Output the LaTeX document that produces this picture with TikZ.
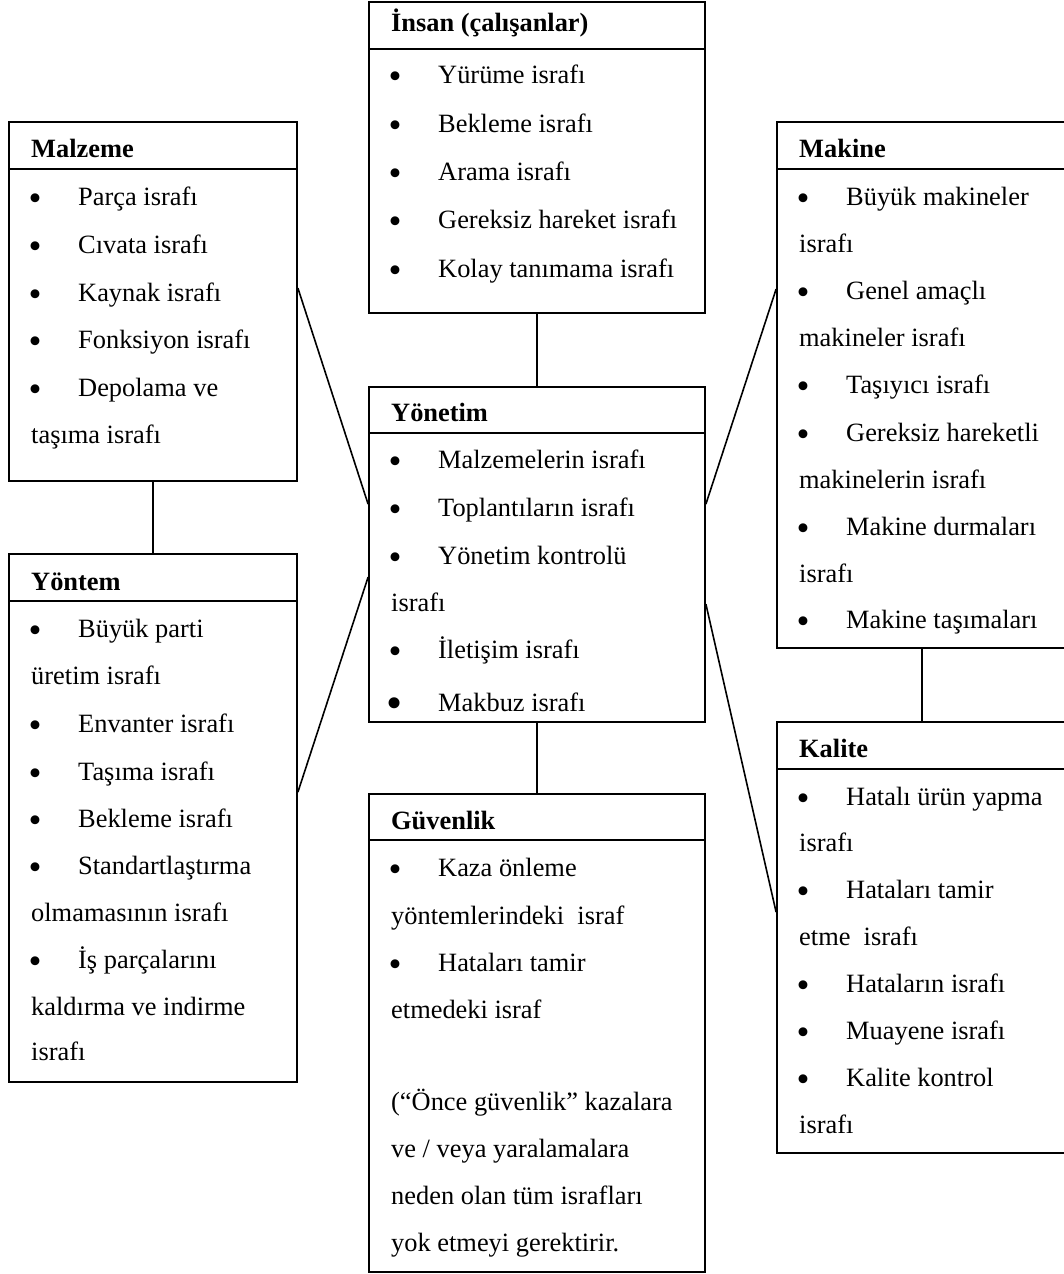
\documentclass[tikz,border=0pt]{standalone}
\usepackage{fontspec}
\setmainfont{Liberation Serif}
\newcommand\fs{\fontsize{26.4pt}{30pt}\selectfont}
\newcommand\bfs{\fontsize{37pt}{37pt}\selectfont}
\newcommand\Itm[4]{\node[bul] (#1b) at (#2+26,#3+5) {•};\node[txt] (#1t) at (#2+69,#3) {#4};}
\newcommand\Cnt[4]{\node[txt] (#1) at (#2+22,#3) {#4};}
\newcommand\Ttl[4]{\node[ttl] (#1) at (#2+22,#3) {#4};}
\tikzset{
  box/.style={draw, line width=1.8pt, rectangle, inner sep=0pt},
  hline/.style={line width=1.8pt},
  link/.style={line width=1.6pt},
  txt/.style={anchor=base west, inner sep=0pt, font=\fs},
  bul/.style={anchor=base, inner sep=0pt, font=\bfs},
  ttl/.style={anchor=base west, inner sep=0pt, font=\fs\bfseries},
}
\begin{document}
\begin{tikzpicture}[x=1pt,y=-1pt]
\useasboundingbox (0,0) rectangle (1064,1274);
\clip (0,0) rectangle (1064,1274);
% boxes
\node[box, minimum width=288pt, minimum height=359pt] (malz) at (153,301.5) {};
\node[box, minimum width=336pt, minimum height=311pt] (insan) at (537,157.5) {};
\node[box, minimum width=336pt, minimum height=335pt] (yonet) at (537,554.5) {};
\node[box, minimum width=290pt, minimum height=526pt] (makine) at (922,385) {};
\node[box, minimum width=288pt, minimum height=528pt] (yontem) at (153,818) {};
\node[box, minimum width=336pt, minimum height=478pt] (guven) at (537,1033) {};
\node[box, minimum width=290pt, minimum height=431pt] (kalite) at (922,937.5) {};
% header rules
\foreach \b in {malz,insan,yontem,makine,kalite}
  \draw[hline] ([yshift=-48pt]\b.north west) -- ([yshift=-48pt]\b.north east);
\draw[hline] ([yshift=-47pt]yonet.north west) -- ([yshift=-47pt]yonet.north east);
\draw[hline] ([yshift=-47pt]guven.north west) -- ([yshift=-47pt]guven.north east);
% Malzeme
\Ttl{malzT}{9}{157}{Malzeme}
\Itm{malzA}{9}{205}{Parça israfı}
\Itm{malzB}{9}{253}{Cıvata israfı}
\Itm{malzC}{9}{301}{Kaynak israfı}
\Itm{malzD}{9}{348}{Fonksiyon israfı}
\Itm{malzE}{9}{396}{Depolama ve}
\Cnt{malzE2}{9}{443}{taşıma israfı}
% Insan
\Ttl{insanT}{369}{31}{İnsan (çalışanlar)}
\Itm{insanA}{369}{83}{Yürüme israfı}
\Itm{insanB}{369}{132}{Bekleme israfı}
\Itm{insanC}{369}{180}{Arama israfı}
\Itm{insanD}{369}{228}{Gereksiz hareket israfı}
\Itm{insanE}{369}{277}{Kolay tanımama israfı}
% Yonetim
\Ttl{yonetT}{369}{421}{Yönetim}
\Itm{yonetA}{369}{468}{Malzemelerin israfı}
\Itm{yonetB}{369}{516}{Toplantıların israfı}
\Itm{yonetC}{369}{564}{Yönetim kontrolü}
\Cnt{yonetC2}{369}{611}{israfı}
\Itm{yonetD}{369}{658}{İletişim israfı}
\node[bul, font=\fontsize{46pt}{46pt}\selectfont] (yonetEb) at (369+26,711+7) {•};
\node[txt] (yonetEt) at (369+69,711) {Makbuz israfı};
% Makine
\Ttl{makT}{777}{157}{Makine}
\Itm{makA}{777}{205}{Büyük makineler}
\Cnt{makA2}{777}{252}{israfı}
\Itm{makB}{777}{299}{Genel amaçlı}
\Cnt{makB2}{777}{346}{makineler israfı}
\Itm{makC}{777}{393}{Taşıyıcı israfı}
\Itm{makD}{777}{441}{Gereksiz hareketli}
\Cnt{makD2}{777}{488}{makinelerin israfı}
\Itm{makE}{777}{535}{Makine durmaları}
\Cnt{makE2}{777}{582}{israfı}
\Itm{makF}{777}{628}{Makine taşımaları}
% Yontem
\Ttl{ytmT}{9}{590}{Yöntem}
\Itm{ytmA}{9}{637}{Büyük parti}
\Cnt{ytmA2}{9}{684}{üretim israfı}
\Itm{ytmB}{9}{732}{Envanter israfı}
\Itm{ytmC}{9}{780}{Taşıma israfı}
\Itm{ytmD}{9}{827}{Bekleme israfı}
\Itm{ytmE}{9}{874}{Standartlaştırma}
\Cnt{ytmE2}{9}{921}{olmamasının israfı}
\Itm{ytmF}{9}{968}{İş parçalarını}
\Cnt{ytmF2}{9}{1015}{kaldırma ve indirme}
\Cnt{ytmF3}{9}{1060}{israfı}
% Guvenlik
\Ttl{guvT}{369}{829}{Güvenlik}
\Itm{guvA}{369}{876}{Kaza önleme}
\Cnt{guvA2}{369}{924}{yöntemlerindeki\ \ israf}
\Itm{guvB}{369}{971}{Hataları tamir}
\Cnt{guvB2}{369}{1018}{etmedeki israf}
\Cnt{guvC}{369}{1110}{(“Önce güvenlik” kazalara}
\Cnt{guvD}{369}{1157}{ve / veya yaralamalara}
\Cnt{guvE}{369}{1204}{neden olan tüm israfları}
\Cnt{guvF}{369}{1251}{yok etmeyi gerektirir.}
% Kalite
\Ttl{kalT}{777}{757}{Kalite}
\Itm{kalA}{777}{805}{Hatalı ürün yapma}
\Cnt{kalA2}{777}{851}{israfı}
\Itm{kalB}{777}{898}{Hataları tamir}
\Cnt{kalB2}{777}{945}{etme\ \ israfı}
\Itm{kalC}{777}{992}{Hataların israfı}
\Itm{kalD}{777}{1039}{Muayene israfı}
\Itm{kalE}{777}{1086}{Kalite kontrol}
\Cnt{kalE2}{777}{1133}{israfı}
% connector end points
\coordinate (malzR) at ([yshift=-167pt]malz.north east);
\coordinate (ytmR) at ([yshift=-239pt]yontem.north east);
\coordinate (makL) at ([yshift=-168pt]makine.north west);
\coordinate (kalL) at ([yshift=-191pt]kalite.north west);
\coordinate (yonL1) at ([yshift=-118pt]yonet.north west);
\coordinate (yonL2) at ([yshift=-191pt]yonet.north west);
\coordinate (yonR1) at ([yshift=-118pt]yonet.north east);
\coordinate (yonR2) at ([yshift=-218pt]yonet.north east);
% connectors
\draw[link] (insan.south) -- (yonet.north);
\draw[link] (yonet.south) -- (guven.north);
\draw[link] (malz.south) -- (yontem.north);
\draw[link] (makine.south) -- (kalite.north);
\draw[link] (malzR) -- (yonL1);
\draw[link] (ytmR) -- (yonL2);
\draw[link] (makL) -- (yonR1);
\draw[link] (kalL) -- (yonR2);
\end{tikzpicture}
\end{document}
